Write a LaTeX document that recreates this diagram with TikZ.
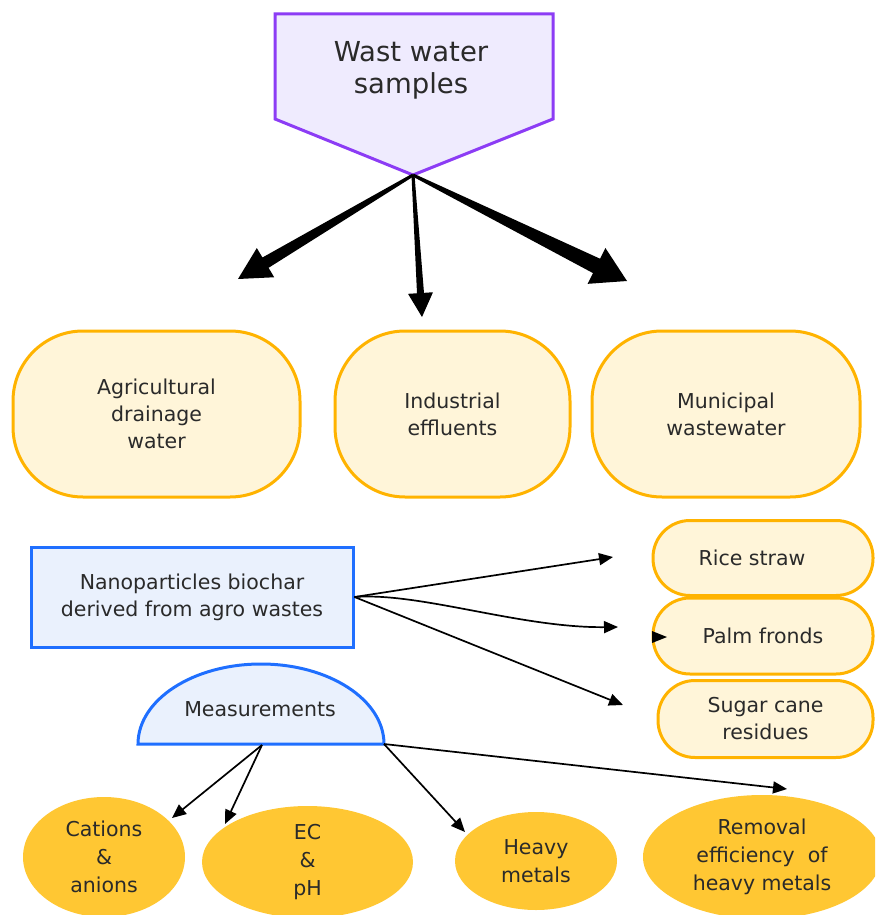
\documentclass[tikz,border=0pt]{standalone}
\usepackage{fontspec}
\setmainfont{DejaVu Sans}
\usetikzlibrary{calc,arrows.meta,shapes.geometric}
\definecolor{purp}{HTML}{8C3CF5}
\definecolor{purpfill}{HTML}{EFEBFE}
\definecolor{orng}{HTML}{FFB300}
\definecolor{cream}{HTML}{FFF5D9}
\definecolor{blu}{HTML}{1F6FFF}
\definecolor{blufill}{HTML}{EAF1FD}
\definecolor{gold}{HTML}{FFC733}
\definecolor{txt}{HTML}{2A2A2A}
\newcommand{\taperarrow}[6]{%
  \coordinate (tH) at ($(#2)!#5!(#1)$);
  \fill[black] ($(#1)!#3!90:(#2)$) -- ($(tH)!#4!90:(#2)$) -- ($(tH)!#6!90:(#2)$) -- (#2)
    -- ($(tH)!#6!-90:(#2)$) -- ($(tH)!#4!-90:(#2)$) -- ($(#1)!#3!-90:(#2)$) -- cycle;
}
\tikzset{
  body/.style={font=\fontsize{20.5}{27}\selectfont, text=txt, align=center},
  bigpill/.style={body, draw=orng, fill=cream, line width=3pt, rounded corners=70pt, minimum height=166pt},
  smallpill/.style={body, draw=orng, fill=cream, line width=3pt, rounded corners=37pt, inner sep=0pt},
  bluebox/.style={body, draw=blu, fill=blufill, line width=3pt},
  goldell/.style={body, ellipse, fill=gold, inner sep=0pt, font=\fontsize{20.5}{28}\selectfont},
  thin/.style={draw=black, line width=1.7pt, -{Triangle[length=14pt,width=12pt]}},
}
\begin{document}
\begin{tikzpicture}[x=1pt,y=-1pt]
\useasboundingbox (0,0) rectangle (875,915);
\clip (0,0) rectangle (875,915);

% top pentagon
\coordinate (wwtip) at (413,175);
\filldraw[draw=purp, fill=purpfill, line width=3pt, line join=miter]
  (275,14) -- (553,14) -- (553,119) -- (wwtip) -- (275,119) -- cycle;
\node[body, font=\fontsize{27.5}{32}\selectfont] (ww) at (411,70) {Wast water\\samples};

% three sources
\node[bigpill, minimum width=287pt] (agri) at (156.5,414) {Agricultural\\drainage\\water};
\node[bigpill, minimum width=235pt] (ind) at (452.5,414) {Industrial\\effluents};
\node[bigpill, minimum width=268pt] (mun) at (726,414) {Municipal\\wastewater};

\coordinate (a1) at (238,279);
\coordinate (a2) at (422,317);
\coordinate (a3) at (627,281);
\taperarrow{wwtip}{a1}{1.5pt}{6pt}{32pt}{17pt}
\taperarrow{wwtip}{a2}{1.5pt}{3.5pt}{24pt}{12.5pt}
\taperarrow{wwtip}{a3}{1.5pt}{8pt}{34pt}{20pt}

% nanoparticles box
\node[bluebox, minimum width=322pt, minimum height=100pt] (nano) at (192,597)
  {Nanoparticles biochar\\derived from agro wastes};

% agro waste pills
\node[smallpill, minimum width=220pt, minimum height=75pt] (rice) at (763,558) {Rice straw\hspace*{22pt}};
\node[smallpill, minimum width=220pt, minimum height=76pt] (palm) at (763,636) {Palm fronds};
\node[smallpill, minimum width=215pt, minimum height=77pt] (sugar) at (765.5,719) {Sugar cane\\residues};

\coordinate (n1) at (613,557);
\coordinate (n2) at (618,627);
\coordinate (n3) at (623,705);
\draw[thin] (nano.east) -- (n1);
\draw[thin] (nano.east) .. controls (420,592) and (520,628) .. (n2);
\draw[thin] (nano.east) -- (n3);
\fill[black] (652,631) -- (667,637) -- (652,643) -- cycle;

% measurements dome
\coordinate (mL) at (138,744);
\coordinate (mR) at (384,744);
\coordinate (mB) at (262,745);
\filldraw[draw=blu, fill=blufill, line width=3pt]
  (mL) arc[start angle=180, end angle=0, x radius=123pt, y radius=80pt] -- cycle;
\node[body] (meas) at (260,709) {Measurements};

% bottom ellipses
\node[goldell, minimum width=162pt, minimum height=120pt] (cat) at (104,857) {Cations\\\&\\anions};
\node[goldell, minimum width=211pt, minimum height=112pt] (ec) at (307.5,862) {EC\\\&\\pH};
\node[goldell, minimum width=162pt, minimum height=98pt] (hm) at (536,861) {Heavy\\metals};
\node[goldell, minimum width=238pt, minimum height=124pt] (rem) at (762,857) {Removal\\efficiency~ of\\heavy metals};

\coordinate (m1) at (172,818);
\coordinate (m2) at (225,824);
\coordinate (m3) at (465,832);
\coordinate (m4) at (787,789);
\draw[thin] (mB) -- (m1);
\draw[thin] (mB) -- (m2);
\draw[thin] (mR) -- (m3);
\draw[thin] (mR) -- (m4);
\end{tikzpicture}
\end{document}
